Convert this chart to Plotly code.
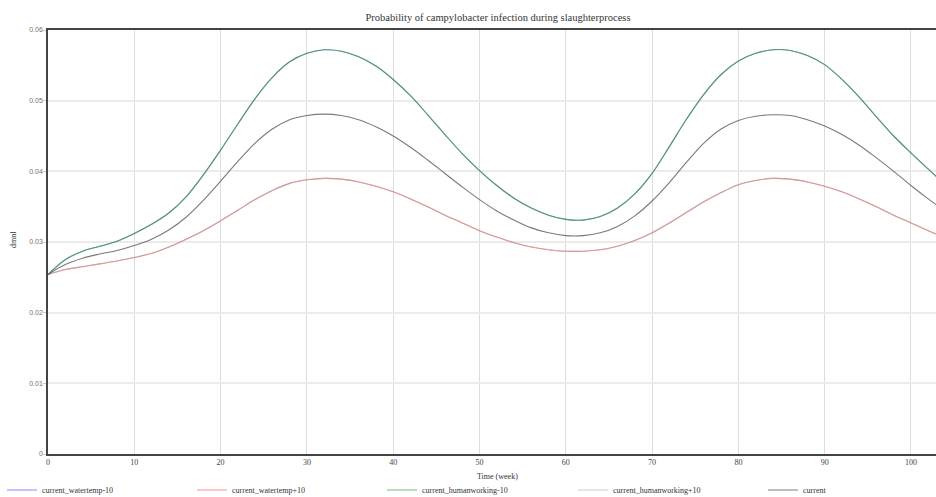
import plotly.graph_objects as go

# Simulation time (weeks)
weeks = [0, 2, 4, 6, 8, 10, 12, 14, 16, 18, 20, 22, 24, 26, 28, 30, 32, 34, 36, 38,
         40, 42, 44, 46, 48, 50, 52, 54, 56, 58, 60, 62, 64, 66, 68, 70, 72, 74, 76, 78,
         80, 82, 84, 86, 88, 90, 92, 94, 96, 98, 100, 102, 103]

# Scenario "-10" (water temperature / human working) -- both runs coincide
low_scenario = [0.0254, 0.0275, 0.0287, 0.0294, 0.0301, 0.0312, 0.0325, 0.0341, 0.0364, 0.0395,
                0.0430, 0.0467, 0.0503, 0.0533, 0.0555, 0.0567, 0.0572, 0.0570, 0.0562, 0.0549,
                0.0530, 0.0507, 0.0480, 0.0452, 0.0425, 0.0401, 0.0380, 0.0362, 0.0348, 0.0338,
                0.0332, 0.0331, 0.0336, 0.0348, 0.0368, 0.0397, 0.0435, 0.0474, 0.0509, 0.0537,
                0.0556, 0.0567, 0.0572, 0.0571, 0.0564, 0.0551, 0.0530, 0.0505, 0.0477, 0.0450,
                0.0426, 0.0403, 0.0392]

# Baseline run
current = [0.0254, 0.0268, 0.0277, 0.0283, 0.0288, 0.0295, 0.0304, 0.0317, 0.0335, 0.0359,
           0.0386, 0.0414, 0.0440, 0.0460, 0.0473, 0.0479, 0.0481, 0.0479, 0.0473, 0.0463,
           0.0450, 0.0434, 0.0416, 0.0397, 0.0378, 0.0360, 0.0344, 0.0331, 0.0320, 0.0313,
           0.0309, 0.0309, 0.0313, 0.0322, 0.0337, 0.0358, 0.0384, 0.0413, 0.0440, 0.0460,
           0.0472, 0.0478, 0.0480, 0.0479, 0.0473, 0.0464, 0.0452, 0.0437, 0.0419, 0.0400,
           0.0380, 0.0361, 0.0352]

# Scenario "+10" (water temperature / human working) -- both runs coincide
high_scenario = [0.0254, 0.0261, 0.0265, 0.0269, 0.0273, 0.0278, 0.0284, 0.0293, 0.0304, 0.0316,
                 0.0330, 0.0345, 0.0360, 0.0373, 0.0383, 0.0388, 0.0390, 0.0389, 0.0385, 0.0379,
                 0.0371, 0.0361, 0.0350, 0.0338, 0.0327, 0.0316, 0.0307, 0.0299, 0.0293, 0.0289,
                 0.0287, 0.0287, 0.0289, 0.0294, 0.0302, 0.0313, 0.0327, 0.0342, 0.0357, 0.0370,
                 0.0381, 0.0387, 0.0390, 0.0389, 0.0385, 0.0379, 0.0371, 0.0361, 0.0350, 0.0338,
                 0.0327, 0.0316, 0.0311]

series = [
    ("current_watertemp-10", low_scenario, "#3c3cff", 0.6),
    ("current_watertemp+10", high_scenario, "#ff5050", 0.65),
    ("current_humanworking-10", low_scenario, "#3ca03c", 0.7),
    ("current_humanworking+10", high_scenario, "#aaaaaa", 0.6),
    ("current", current, "#5a5a5a", 0.8),
]

# left edge (px) of each legend entry along the bottom row
legend_left_px = [2, 192, 382, 573, 763]

W, H = 936, 497
ML, MR, MT, MB = 48, 0, 30, 43
PW, PH = W - ML - MR, H - MT - MB
serif = "Liberation Serif"

fig = go.Figure()
legend_layouts = {}
for i, (name, vals, color, op) in enumerate(series):
    key = "legend" if i == 0 else f"legend{i + 1}"
    fig.add_trace(go.Scatter(
        x=weeks, y=vals, name=name, mode="lines",
        line=dict(color=color, width=1.1, shape="spline", smoothing=1.0),
        opacity=op, legend=key,
    ))
    legend_layouts[key] = dict(
        xref="container", x=legend_left_px[i] / W, xanchor="left",
        yref="container", y=1 - 490 / H, yanchor="middle",
        font=dict(family=serif, size=8, color="#333333"),
        bgcolor="rgba(0,0,0,0)", borderwidth=0,
        itemclick=False, itemdoubleclick=False,
    )

fig.update_layout(
    width=W, height=H,
    margin=dict(l=ML, r=MR, t=MT, b=MB, autoexpand=False),
    paper_bgcolor="white", plot_bgcolor="white",
    title=dict(
        text="Probability of campylobacter infection during slaughterprocess",
        font=dict(family=serif, size=10.5, color="#333333"),
        xref="container", x=498 / W, xanchor="center",
        yref="container", y=1 - 17 / H, yanchor="middle",
    ),
    showlegend=True,
    **legend_layouts,
    xaxis=dict(
        range=[0, 102.9],
        tickvals=[0, 10, 20, 30, 40, 50, 60, 70, 80, 90, 100],
        showgrid=True, gridcolor="#dddddd", gridwidth=1,
        zeroline=False,
        showline=True, linecolor="#444444", linewidth=1.5, mirror=True,
        ticks="", ticklabelstandoff=0,
        tickfont=dict(family=serif, size=8, color="#444444"),
    ),
    yaxis=dict(
        range=[0, 0.06],
        tickvals=[0, 0.01, 0.02, 0.03, 0.04, 0.05, 0.06],
        ticktext=["0", "0.01", "0.02", "0.03", "0.04", "0.05", "0.06"],
        showgrid=True, gridcolor="#ebebeb", gridwidth=2,
        zeroline=False,
        showline=True, linecolor="#444444", linewidth=1.5,
        ticks="outside", ticklen=3, tickcolor="#cccccc", ticklabelstandoff=-1,
        tickfont=dict(family="Liberation Sans", size=7, color="#7d7058"),
    ),
    annotations=[
        dict(text="Time (week)", xref="paper", x=(497 - ML) / PW, xanchor="center",
             yref="paper", y=(H - MB - 476) / PH, yanchor="middle", showarrow=False,
             font=dict(family=serif, size=8, color="#333333")),
        dict(text="dmnl", textangle=-90, xref="paper", x=(14 - ML) / PW, xanchor="center",
             yref="paper", y=(H - MB - 240) / PH, yanchor="middle", showarrow=False,
             font=dict(family=serif, size=8, color="#333333")),
    ],
)

fig.write_html("out.html")
